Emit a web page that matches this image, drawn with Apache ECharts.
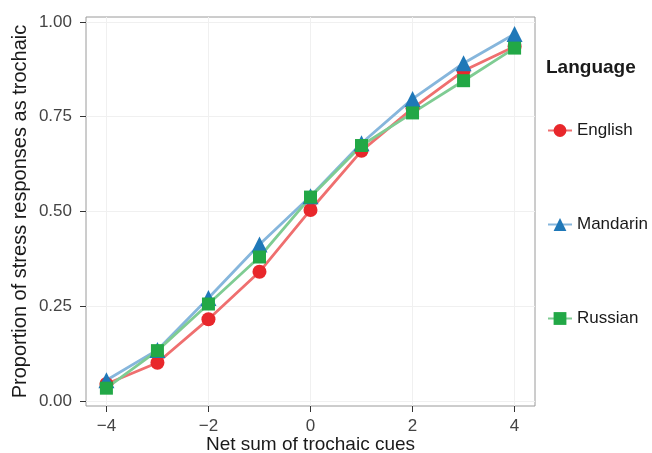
<!DOCTYPE html>
<html>
<head>
<meta charset="utf-8">
<script src="https://cdn.jsdelivr.net/npm/echarts@6/dist/echarts.min.js"></script>
<style>
  html, body { margin: 0; padding: 0; background: #fff; }
  #chart { width: 652px; height: 453px; }
</style>
</head>
<body>
<div id="chart"></div>
<script>
// x values: net sum of trochaic cues
const cues = [-4, -3, -2, -1, 0, 1, 2, 3, 4];
const english = [0.045, 0.101, 0.216, 0.341, 0.504, 0.660, 0.772, 0.871, 0.935];
const mandarin = [0.055, 0.135, 0.272, 0.413, 0.540, 0.680, 0.797, 0.891, 0.968];
const russian = [0.034, 0.133, 0.256, 0.380, 0.538, 0.674, 0.760, 0.845, 0.931];
const xTicks = [-4, -2, 0, 2, 4];
const yTicks = [0, 0.25, 0.5, 0.75, 1];

const FONT = "Liberation Sans";
const chart = echarts.init(document.getElementById("chart"));

function pairs(ys) {
  return cues.map((x, i) => [x, ys[i]]);
}

function makeSeries(name, ys, symbol, size, color, lineColor) {
  return {
    name,
    type: "line",
    data: pairs(ys),
    symbol,
    symbolSize: size,
    itemStyle: { color },
    lineStyle: { color: lineColor, width: 2.8 },
    emphasis: { disabled: true }
  };
}

const option = {
  animation: false,
  textStyle: { fontFamily: FONT },
  grid: {
    left: 86, right: 117, top: 17, bottom: 47,
    outerBoundsMode: "none",
    containLabel: false,
    show: true, borderColor: "#9a9a9a", borderWidth: 1
  },
  title: {
    text: "Language",
    left: 546, top: 58, padding: 0,
    textStyle: { fontFamily: FONT, fontSize: 19, fontWeight: "bold", color: "#1a1a1a" }
  },
  legend: {
    orient: "vertical",
    left: 547, top: 122, padding: 0,
    itemWidth: 24, itemHeight: 16,
    itemGap: 77,
    textStyle: { fontFamily: FONT, fontSize: 17, color: "#1a1a1a" },
    data: ["English", "Mandarin", "Russian"]
  },
  xAxis: {
    type: "value",
    min: -4.4, max: 4.4, interval: 2,
    name: "Net sum of trochaic cues",
    nameLocation: "middle", nameGap: 29, nameMoveOverlap: false,
    nameTextStyle: { fontFamily: FONT, fontSize: 19, color: "#1a1a1a" },
    axisLine: { show: false, onZero: false },
    axisTick: { show: true, length: 6, customValues: xTicks, lineStyle: { color: "#333" } },
    axisLabel: {
      customValues: xTicks, margin: 12,
      fontFamily: FONT, fontSize: 17, color: "#444",
      formatter: v => (v < 0 ? "\u2212" + Math.abs(v) : String(v))
    },
    splitLine: { show: true, lineStyle: { color: "#f0f0f0", width: 1 } }
  },
  yAxis: {
    type: "value",
    min: -0.013, max: 1.013, interval: 0.25,
    name: "Proportion of stress responses as trochaic",
    nameLocation: "middle", nameGap: 56, nameMoveOverlap: false,
    nameTextStyle: { fontFamily: FONT, fontSize: 20, color: "#1a1a1a" },
    axisLine: { show: false, onZero: false },
    axisTick: { show: true, length: 6, customValues: yTicks, lineStyle: { color: "#333" } },
    axisLabel: {
      customValues: yTicks, margin: 14,
      fontFamily: FONT, fontSize: 17, color: "#444",
      formatter: v => v.toFixed(2)
    },
    splitLine: { show: true, lineStyle: { color: "#f0f0f0", width: 1 } }
  },
  series: [
    makeSeries("English", english, "circle", 14, "#e8272b", "#ef6f6f"),
    makeSeries("Mandarin", mandarin, "triangle", 16, "#1f78b8", "#86b6dc"),
    makeSeries("Russian", russian, "rect", 13, "#22a846", "#7fcc93")
  ]
};
chart.setOption(option);
</script>
</body>
</html>
